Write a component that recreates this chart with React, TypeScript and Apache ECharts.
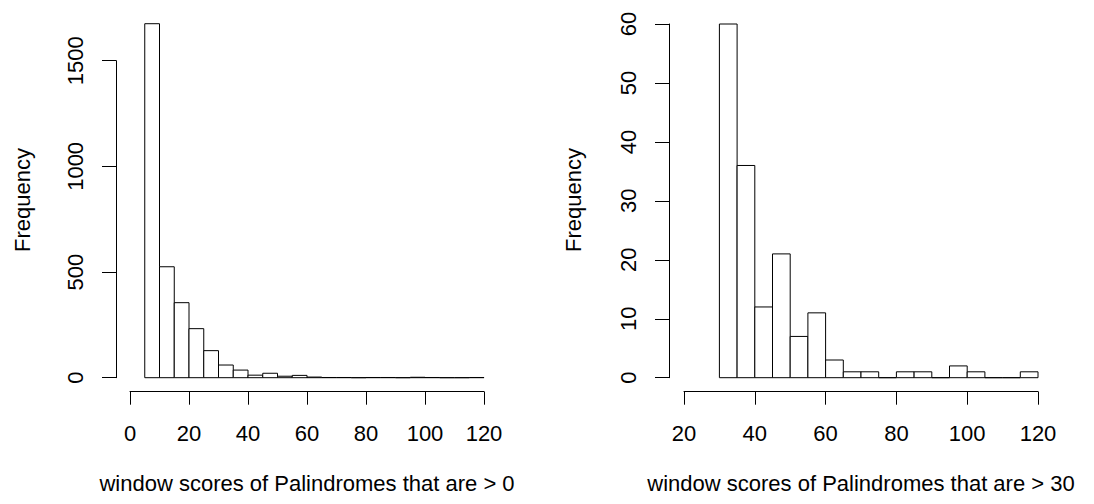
import React, { useEffect, useRef } from "react";
import * as echarts from "echarts";

// Left histogram: window scores > 0, bins of width 5 starting at 5
const leftBinStarts = [5, 10, 15, 20, 25, 30, 35, 40, 45, 50, 55, 60, 65, 70, 75, 80, 85, 90, 95, 100, 105, 110, 115];
const leftCounts = [1675, 525, 355, 232, 128, 60, 36, 12, 21, 7, 11, 3, 1, 1, 0, 1, 1, 0, 2, 1, 0, 0, 1];
const leftXTicks = [0, 20, 40, 60, 80, 100, 120];
const leftYTicks = [0, 500, 1000, 1500];

// Right histogram: window scores > 30
const rightBinStarts = [30, 35, 40, 45, 50, 55, 60, 65, 70, 75, 80, 85, 90, 95, 100, 105, 110, 115];
const rightCounts = [60, 36, 12, 21, 7, 11, 3, 1, 1, 0, 1, 1, 0, 2, 1, 0, 0, 1];
const rightXTicks = [20, 40, 60, 80, 100, 120];
const rightYTicks = [0, 10, 20, 30, 40, 50, 60];

const binWidth = 5;
const leftXTitle = "window scores of Palindromes that are > 0";
const rightXTitle = "window scores of Palindromes that are > 30";
const yTitle = "Frequency";

const FONT = "Liberation Sans, Arial, Helvetica, sans-serif";
const FS = 22;

function toData(starts: number[], counts: number[]) {
  return starts.map((s, i) => [s, s + binWidth, counts[i]]);
}

function renderItem(params: any, api: any) {
  const x0 = api.value(0);
  const x1 = api.value(1);
  const y = api.value(2);
  const p0 = api.coord([x0, 0]);
  const p1 = api.coord([x1, y]);
  return {
    type: "rect",
    shape: { x: p0[0], y: p1[1], width: p1[0] - p0[0], height: p0[1] - p1[1] },
    style: { fill: "#ffffff", stroke: "#000000", lineWidth: 1 },
  };
}

function xAxisFor(ticks: number[], gridIndex: number, name: string) {
  return {
    type: "value",
    gridIndex,
    min: ticks[0],
    max: ticks[ticks.length - 1],
    interval: ticks[1] - ticks[0],
    offset: 14,
    splitLine: { show: false },
    axisLine: { show: true, onZero: false, lineStyle: { color: "#000", width: 1 } },
    axisTick: { show: true, length: 13, lineStyle: { color: "#000", width: 1 } },
    axisLabel: {
      show: true, margin: 31, color: "#000", fontSize: FS, fontFamily: FONT,
      showMinLabel: true, showMaxLabel: true, formatter: (v: number) => String(v),
    },
    name,
    nameLocation: "middle",
    nameGap: 81,
    nameTextStyle: { color: "#000", fontSize: FS, fontFamily: FONT },
  };
}

function yAxisFor(ticks: number[], gridIndex: number, offset: number) {
  return {
    type: "value",
    gridIndex,
    min: ticks[0],
    max: ticks[ticks.length - 1],
    interval: ticks[1] - ticks[0],
    offset,
    splitLine: { show: false },
    axisLine: { show: true, onZero: false, lineStyle: { color: "#000", width: 1 } },
    axisTick: { show: true, length: 14, lineStyle: { color: "#000", width: 1 } },
    axisLabel: {
      show: true, rotate: 90, margin: 30, color: "#000", fontSize: FS, fontFamily: FONT,
      showMinLabel: true, showMaxLabel: true, formatter: (v: number) => String(v),
    },
  };
}

export default function App() {
  const ref = useRef<HTMLDivElement>(null);
  useEffect(() => {
    if (!ref.current) return;
    const chart = echarts.init(ref.current, null, { renderer: "svg" });
    chart.setOption({
      animation: false,
      backgroundColor: "#ffffff",
      grid: [
        { left: 130, top: 60.7, width: 354, height: 317, containLabel: false },
        { left: 684, top: 24, width: 354, height: 353.7, containLabel: false },
      ],
      xAxis: [xAxisFor(leftXTicks, 0, leftXTitle), xAxisFor(rightXTicks, 1, rightXTitle)],
      yAxis: [yAxisFor(leftYTicks, 0, 14), yAxisFor(rightYTicks, 1, 15)],
      graphic: [
        {
          type: "text",
          x: 22.5,
          y: 200,
          rotation: Math.PI / 2,
          style: { text: yTitle, fill: "#000", font: `${FS}px ${FONT}`, align: "center", verticalAlign: "middle" },
        },
        {
          type: "text",
          x: 573,
          y: 200,
          rotation: Math.PI / 2,
          style: { text: yTitle, fill: "#000", font: `${FS}px ${FONT}`, align: "center", verticalAlign: "middle" },
        },
      ],
      series: [
        {
          type: "custom",
          xAxisIndex: 0,
          yAxisIndex: 0,
          clip: false,
          renderItem,
          encode: { x: [0, 1], y: 2 },
          data: toData(leftBinStarts, leftCounts),
        },
        {
          type: "custom",
          xAxisIndex: 1,
          yAxisIndex: 1,
          clip: false,
          renderItem,
          encode: { x: [0, 1], y: 2 },
          data: toData(rightBinStarts, rightCounts),
        },
      ],
    });
    return () => chart.dispose();
  }, []);
  return <div ref={ref} style={{ position: "absolute", left: 0, top: 0, width: 1094, height: 504 }} />;
}
